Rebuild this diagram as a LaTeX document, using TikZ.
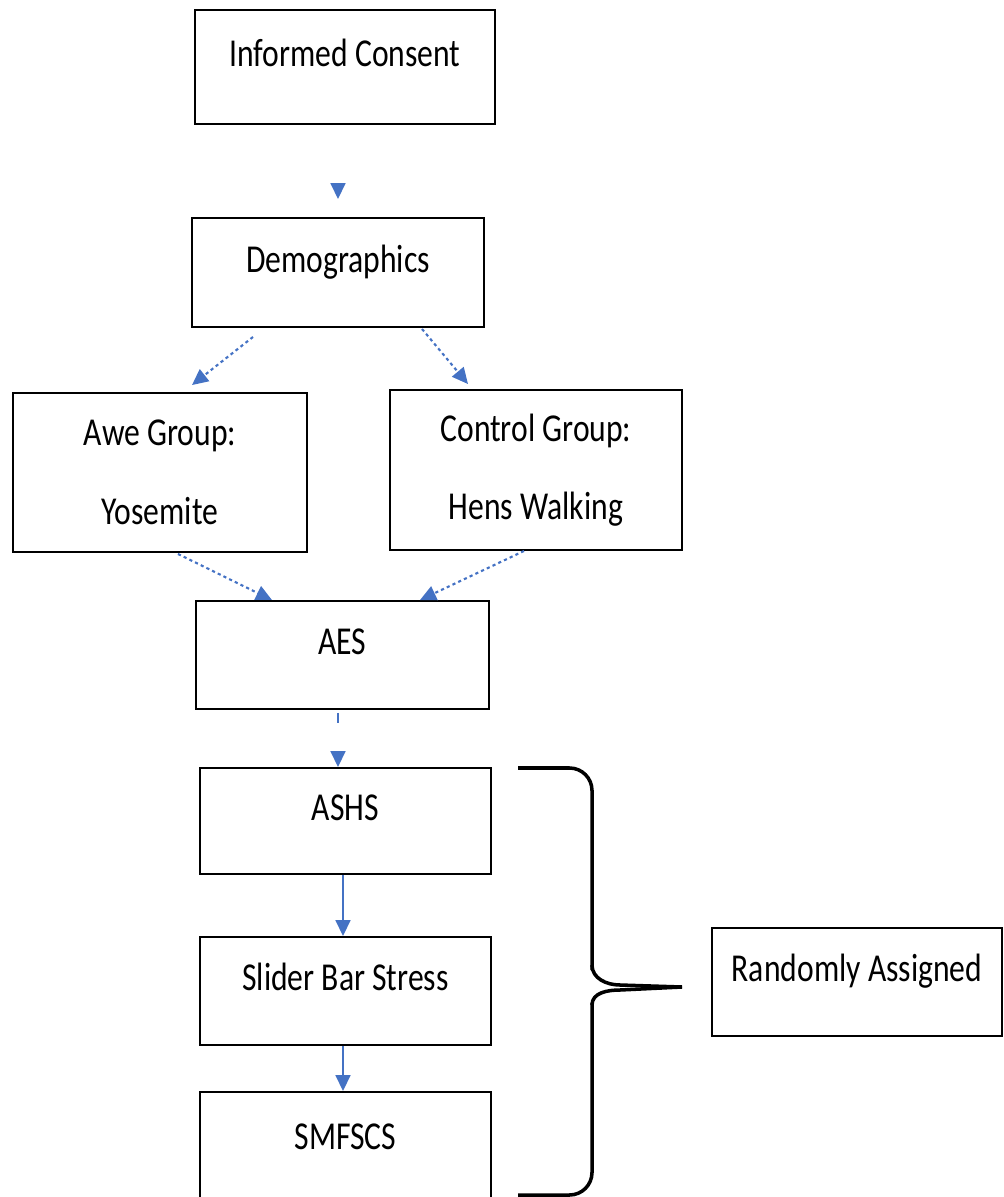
\documentclass[tikz,border=0pt]{standalone}
\usepackage{fontspec}
\setmainfont{Carlito}
\usepackage{graphicx}
\usepackage{xcolor}
\definecolor{flowblue}{HTML}{4472C4}
\usepackage{tikz}
\usetikzlibrary{arrows.meta,positioning,calc}
\newcommand{\tall}[1]{\scalebox{1}[1.25]{#1}}

\begin{document}
\begin{tikzpicture}[
  font=\fontsize{18}{22}\selectfont,
  frame/.style={draw=black, line width=1.1pt, minimum width=5.84cm, align=center, inner sep=0pt},
  box/.style={frame, minimum height=2.16cm, text height=0.45cm, text depth=0.46cm},
  twobox/.style={frame, minimum height=3.18cm},
  flow/.style={draw=flowblue, line width=1pt, -{Triangle[length=0.32cm,width=0.3cm]}},
  dotflow/.style={flow, line width=1.2pt, dash pattern=on 1.8pt off 1.8pt}
]
  \useasboundingbox (0,0) rectangle (20.06,-23.94);
  % boxes
  \node[box, minimum width=6cm, minimum height=2.28cm] (consent) at (6.9,-1.34) {\tall{Informed Consent}};
  \node[box, minimum height=2.18cm] (demo) at (6.76,-5.45) {\tall{Demographics}};
  \node[twobox, minimum width=5.88cm] (awe) at (3.2,-9.45) {\tall{Awe Group:}\\[0.8cm]\tall{Yosemite}};
  \node[twobox, minimum height=3.2cm] (ctrl) at (10.72,-9.4) {\tall{Control Group:}\\[0.8cm]\tall{Hens Walking}};
  \node[box, minimum width=5.86cm] (aes) at (6.85,-13.1) {\tall{AES}};
  \node[box, minimum width=5.82cm, minimum height=2.12cm] (ashs) at (6.91,-16.42) {\tall{ASHS}};
  \node[box, minimum width=5.82cm] (slider) at (6.91,-19.82) {\tall{Slider Bar Stress}};
  \node[box, minimum width=5.82cm, text depth=0.3cm] (smfscs) at (6.91,-22.92) {\tall{SMFSCS}};
  \node[box, minimum width=5.8cm] (random) at (17.14,-19.64) {\tall{Randomly Assigned}};
  % connectors
  \draw[flow, shorten <=1.2cm, shorten >=0.36cm] (consent.south -| demo.north) -- (demo.north);
  \draw[dotflow] ([xshift=-1.7cm,yshift=-0.18cm]demo.south) -- ([xshift=0.64cm,yshift=0.14cm]awe.north);
  \draw[dotflow] ([xshift=1.68cm,yshift=-0.02cm]demo.south) -- ([xshift=-1.36cm,yshift=0.1cm]ctrl.north);
  \draw[dotflow] ([xshift=0.36cm,yshift=-0.02cm]awe.south) -- ([xshift=-1.41cm]aes.north);
  \draw[dotflow] ([xshift=-0.24cm]ctrl.south) -- ([xshift=1.55cm]aes.north);
  \draw[flow, dash pattern=on 0.2cm off 1cm] ([xshift=-0.09cm,yshift=-0.06cm]aes.south) -- ([xshift=-0.15cm]ashs.north);
  \draw[flow] ([xshift=-0.05cm]ashs.south) -- ([xshift=-0.05cm]slider.north);
  \draw[flow] ([xshift=-0.05cm]slider.south) -- ([xshift=-0.05cm]smfscs.north);
  % brace
  \draw[line width=2pt, rounded corners=0.45cm] (10.36,-15.36) -| (11.84,-19.4);
  \draw[line width=2pt] (11.84,-19.3) to[out=-90,in=180] (12.4,-19.7) -- (13.64,-19.74);
  \draw[line width=2pt] (13.64,-19.74) -- (12.4,-19.8) to[out=180,in=90] (11.84,-20.1);
  \draw[line width=2pt, rounded corners=0.45cm] (11.84,-20.05) |- (10.36,-23.9);
\end{tikzpicture}
\end{document}
